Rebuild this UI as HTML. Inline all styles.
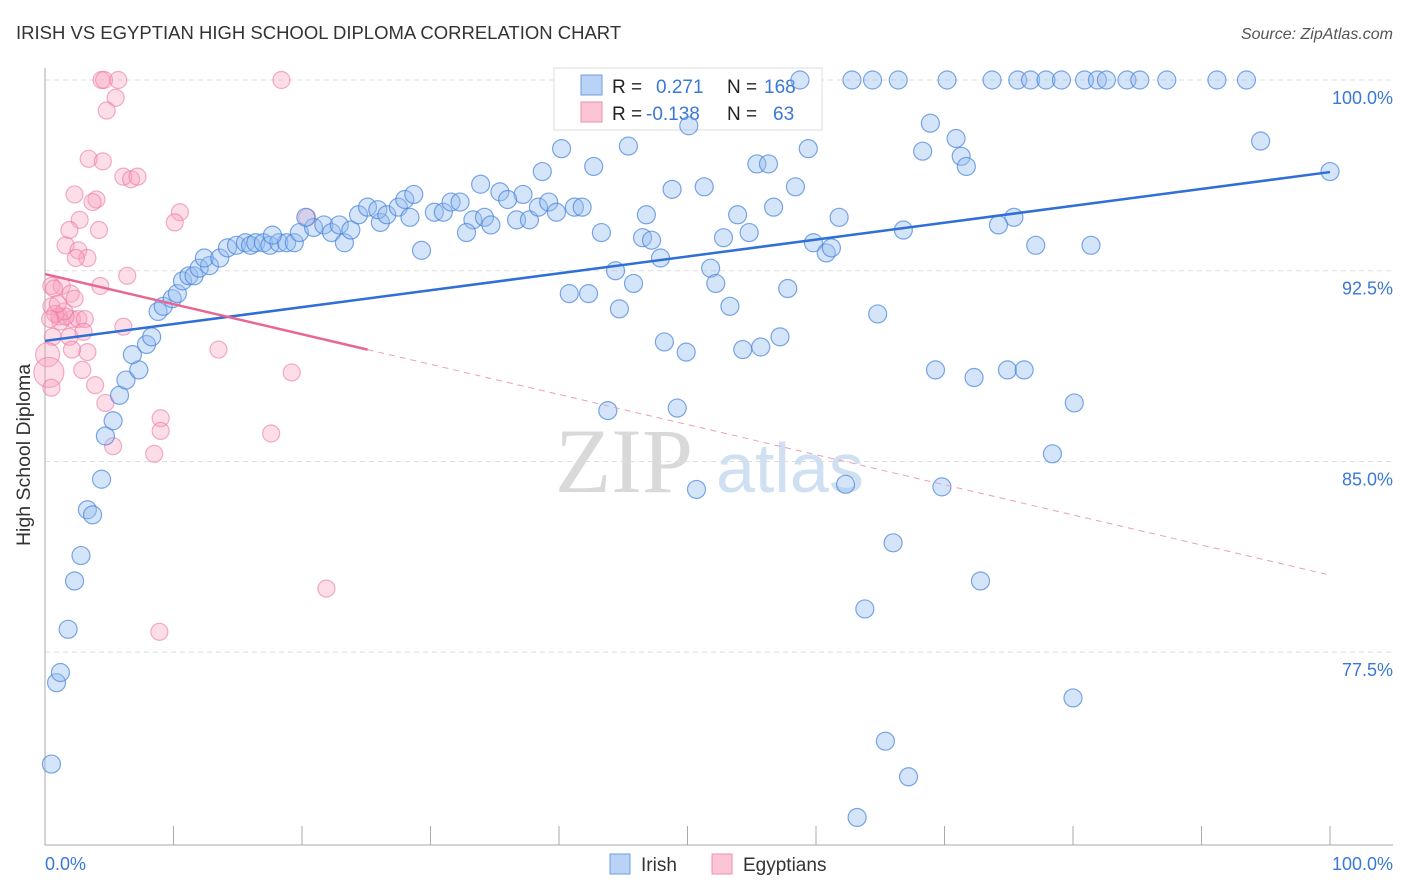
<!DOCTYPE html>
<html><head><meta charset="utf-8">
<style>
body{margin:0;background:#fff;font-family:"Liberation Sans",sans-serif;}
svg{display:block}
</style></head>
<body>
<svg id="chart" width="1406" height="892" xmlns="http://www.w3.org/2000/svg">
<text x="16" y="39" font-size="18.5" fill="#333">IRISH VS EGYPTIAN HIGH SCHOOL DIPLOMA CORRELATION CHART</text>
<text x="1393" y="39" font-size="16" fill="#555" font-style="italic" text-anchor="end">Source: ZipAtlas.com</text>
<g>
<text x="555" y="492" font-size="92" fill="#d9d9d9" font-family="Liberation Serif,serif">ZIP</text>
<text x="716" y="492" font-size="70" fill="#cfe0f3">atlas</text>
</g>
<g id="grid"></g>
<line x1="45" y1="68" x2="45" y2="845" stroke="#aaa"/>
<line x1="45" y1="845" x2="1393" y2="845" stroke="#aaa"/>
<text x="30" y="455" font-size="19.5" fill="#333" text-anchor="middle" transform="rotate(-90 30 455)">High School Diploma</text>
<g>
<rect x="554" y="68" width="268" height="62" fill="#fff" stroke="#ddd"/>
<rect x="581" y="75" width="21" height="20" fill="#b9d2f5" stroke="#6e9fe0"/>
<rect x="581" y="102" width="21" height="20" fill="#fcc5d5" stroke="#ee90ae"/>
<text x="612" y="93" font-size="19" fill="#222">R = </text><text x="656" y="93" font-size="19" fill="#3a78d6">0.271</text>
<text x="727" y="93" font-size="19" fill="#222">N = </text><text x="764" y="93" font-size="19" fill="#3a78d6">168</text>
<text x="612" y="120" font-size="19" fill="#222">R = </text><text x="646" y="120" font-size="19" fill="#3a78d6">-0.138</text>
<text x="727" y="120" font-size="19" fill="#222">N = </text><text x="773" y="120" font-size="19" fill="#3a78d6">63</text>
</g>
<g id="pts"></g>
<g id="lines"></g>
<g>
<rect x="610" y="854" width="20" height="20" fill="#b9d2f5" stroke="#6e9fe0"/>
<text x="641" y="871" font-size="19" fill="#333">Irish</text>
<rect x="712" y="854" width="20" height="20" fill="#fcc5d5" stroke="#ee90ae"/>
<text x="743" y="871" font-size="19" fill="#333">Egyptians</text>
</g>
<text x="45" y="870" font-size="18" fill="#3a78d6">0.0%</text>
<text x="1393" y="870" font-size="18" fill="#3a78d6" text-anchor="end">100.0%</text>
</svg>
<script>
const yTicks=[100,92.5,85,77.5];
const yTickLabels=["100.0%","92.5%","85.0%","77.5%"];
const xTicks=[0,10,20,30,40,50,60,70,80,90,100];
const irishX=[58.75,62.8,64.4,66.4,70.2,73.7,75.7,76.7,77.9,79.1,80.9,81.9,82.6,84.2,85.2,87.3,91.2,93.5,
50.1,68.9,70.9,68.3,71.3,71.7,94.6,100,45.4,40.2,42.7,38.7,59.4,55.4,56.3,58.4,51.3,48.8,33.9,35.4,37.2,36.0,56.7,53.9,61.8,46.8,43.3,75.4,74.2,66.8,54.8,52.8,46.5,47.2,77.1,81.4,59.8,60.8,61.2,47.9,44.4,51.8,52.2,45.8,40.8,42.3,57.8,44.7,53.3,64.8,48.2,49.9,54.3,55.7,57.2,69.3,72.3,74.9,76.2,80.1,43.8,49.2,78.4,50.7,62.3,69.8,66.0,72.8,63.8,80.0,65.4,67.2,63.2,
0.5,0.9,1.2,1.8,2.3,2.8,3.3,3.7,4.4,4.7,5.3,5.8,6.3,7.3,6.8,7.9,8.3,8.8,9.2,9.9,10.3,10.7,11.2,11.6,12.0,12.8,12.4,13.6,14.2,14.9,15.6,16.0,16.4,17.0,17.5,18.2,18.8,19.4,17.7,19.8,20.9,21.7,22.3,22.9,20.3,23.3,23.8,24.4,25.1,26.1,25.9,26.6,27.5,28.0,28.7,28.4,29.3,30.3,31.0,31.6,32.3,33.3,34.2,34.7,32.8,36.7,37.7,38.4,39.2,39.8,41.2,41.8];
const irishY=[100,100,100,100,100,100,100,100,100,100,100,100,100,100,100,100,100,100,
98.2,98.3,97.7,97.2,97.0,96.6,97.6,96.4,97.4,97.3,96.6,96.4,97.3,96.7,96.7,95.8,95.8,95.7,95.9,95.6,95.5,95.3,95.0,94.7,94.6,94.7,94.0,94.6,94.3,94.1,94.0,93.8,93.8,93.7,93.5,93.5,93.6,93.2,93.4,93.0,92.5,92.6,92.0,92.0,91.6,91.6,91.8,91.0,91.1,90.8,89.7,89.3,89.4,89.5,89.9,88.6,88.3,88.6,88.6,87.3,87.0,87.1,85.3,83.9,84.1,84.0,81.8,80.3,79.2,75.7,74.0,72.6,71.0,
73.1,76.3,76.7,78.4,80.3,81.3,83.1,82.9,84.3,86.0,86.6,87.6,88.2,88.6,89.2,89.6,89.9,90.9,91.1,91.4,91.6,92.1,92.3,92.3,92.6,92.7,93.0,93.0,93.4,93.5,93.6,93.5,93.6,93.6,93.5,93.6,93.6,93.6,93.9,94.0,94.2,94.3,94.0,94.3,94.6,93.6,94.1,94.7,95.0,94.4,94.9,94.7,95.0,95.3,95.5,94.6,93.3,94.8,94.8,95.2,95.2,94.5,94.6,94.3,94.0,94.5,94.5,95.0,95.2,94.8,95.0,95.0];
const egyX=[4.4,4.6,5.7,18.4,5.5,4.8,3.4,4.5,6.1,6.7,7.2,2.3,4.0,3.7,10.5,10.1,2.7,4.2,1.9,1.6,2.6,3.3,2.4,6.4,0.5,1.3,0.7,4.3,2.0,0.5,1.1,2.1,2.6,1.2,1.6,3.1,6.1,0.6,1.9,3.0,0.2,3.3,2.1,13.5,19.2,0.3,0.5,3.9,2.9,4.7,5.3,9.0,9.0,8.5,17.6,21.9,8.9,20.4,0.8,1.5,2.3,0.4,1.0];
const egyY=[100,100,100,100,99.3,98.8,96.9,96.8,96.2,96.1,96.2,95.5,95.3,95.2,94.8,94.4,94.5,94.1,94.1,93.5,93.3,93.0,93.0,92.3,91.9,91.9,91.8,91.9,91.6,91.1,90.7,90.6,90.6,90.5,90.7,90.6,90.3,89.9,89.9,90.1,89.2,89.3,89.4,89.4,88.5,88.5,87.9,88.0,88.6,87.3,85.6,86.7,86.2,85.3,86.1,80.0,78.3,94.6,90.8,90.9,91.4,90.6,91.2];
const egySize=[8.5,8.5,8.5,8.5,8.5,8.5,8.5,8.5,8.5,8.5,8.5,8.5,8.5,8.5,8.5,8.5,8.5,8.5,8.5,8.5,8.5,8.5,8.5,8.5,8.5,8.5,8.5,8.5,8.5,8.5,8.5,8.5,8.5,8.5,8.5,8.5,8.5,8.5,8.5,8.5,12,8.5,8.5,8.5,8.5,15,8.5,8.5,8.5,8.5,8.5,8.5,8.5,8.5,8.5,8.5,8.5,8.5,8.5,8.5,8.5,8.5,8.5];
const irishTrend=[89.74,96.38];
const egyTrend=[92.37,80.53];
const egySolidEnd=25.1;

const NS="http://www.w3.org/2000/svg";
const X0=45,X1=1330,Y100=80,PXPER=25.43;
function sx(v){return X0+(X1-X0)*v/100;}
function sy(v){return Y100+(100-v)*PXPER;}
function mk(tag,attrs,parent){const e=document.createElementNS(NS,tag);for(const k in attrs)e.setAttribute(k,attrs[k]);parent.appendChild(e);return e;}
const grid=document.getElementById('grid');
yTicks.forEach((t,i)=>{
  const l=mk('line',{x1:45,x2:1393,y1:sy(t),y2:sy(t),stroke:'#ddd','stroke-dasharray':'5,4'},grid);
  
  
  const tx=mk('text',{x:1393,y:sy(t)+24,'font-size':18,fill:'#3a78d6','text-anchor':'end'},grid);
  tx.textContent=yTickLabels[i];
  
  
});
xTicks.forEach(t=>{
  const l=mk('line',{x1:sx(t),x2:sx(t),y1:826,y2:845,stroke:'#aaa'},grid);
  
  
});
const pts=document.getElementById('pts');
egyX.forEach((v,i)=>{
  const c=mk('circle',{cx:sx(v),cy:sy(egyY[i]),r:egySize[i],fill:'rgba(248,160,188,0.35)',stroke:'rgba(235,120,160,0.6)','stroke-width':1.2},pts);
  
  
});
irishX.forEach((v,i)=>{
  const c=mk('circle',{cx:sx(v),cy:sy(irishY[i]),r:9,fill:'rgba(150,190,240,0.4)',stroke:'rgba(70,130,220,0.7)','stroke-width':1.2},pts);
  
  
});
const lines=document.getElementById('lines');
let l=mk('line',{x1:sx(0),y1:sy(irishTrend[0]),x2:sx(100),y2:sy(irishTrend[1]),stroke:'#2f6fd6','stroke-width':2.5},lines);


const ey=x=>egyTrend[0]+(egyTrend[1]-egyTrend[0])*x/100;
l=mk('line',{x1:sx(0),y1:sy(ey(0)),x2:sx(egySolidEnd),y2:sy(ey(egySolidEnd)),stroke:'#e8668f','stroke-width':2.5},lines);


l=mk('line',{x1:sx(egySolidEnd),y1:sy(ey(egySolidEnd)),x2:sx(100),y2:sy(ey(100)),stroke:'#e8a0b8','stroke-width':1,'stroke-dasharray':'6,5'},lines);


</script>
</body></html>
